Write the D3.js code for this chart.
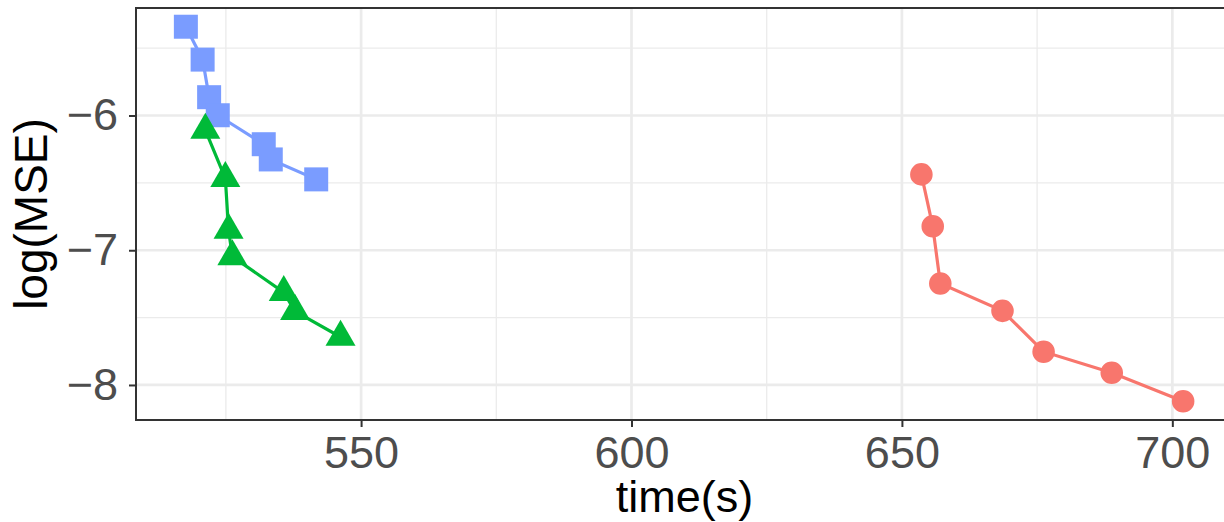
<!DOCTYPE html>
<html>
<head>
<meta charset="utf-8">
<script src="https://cdn.jsdelivr.net/npm/d3@7"></script>
<style>
  body { margin: 0; background: #fff; }
  svg { display: block; font-family: "Liberation Sans", Arial, sans-serif; }
</style>
</head>
<body>
<div id="wrapper"></div>
<script>
// values
const redTime = [653.6, 655.7, 657.1, 668.6, 676.2, 688.8, 702.0];
const redMse = [-6.437, -6.822, -7.247, -7.450, -7.753, -7.909, -8.121];

const greenTime = [521.2, 524.9, 525.5, 526.2, 535.7, 537.8, 546.2];
const greenMse = [-6.109, -6.467, -6.850, -7.047, -7.313, -7.454, -7.644];

const blueTime = [517.6, 520.7, 521.9, 523.5, 532.0, 533.3, 541.7];
const blueMse = [-5.341, -5.585, -5.864, -5.998, -6.213, -6.326, -6.474];

const xTicks = [550, 600, 650, 700];
const xMinor = [525, 575, 625, 675];
const yTicks = [-6, -7, -8];
const yMinor = [-5.5, -6.5, -7.5];

const toPoints = (times, mses) => times.map((t, i) => ({ time: t, mse: mses[i] }));

// drawing order: blue, green, red
const series = [
  { name: "blue", color: "#7A9CFF", symbol: d3.symbolSquare, size: 576, points: toPoints(blueTime, blueMse) },
  { name: "green", color: "#00BA38", symbol: d3.symbolTriangle, size: 390, points: toPoints(greenTime, greenMse) },
  { name: "red", color: "#F8766D", symbol: d3.symbolCircle, size: 400, points: toPoints(redTime, redMse) },
];

const xAccessor = d => d.time;
const yAccessor = d => d.mse;

// chart dimensions (panel runs past the right edge, like the original)
let dimensions = {
  width: 1224,
  height: 522,
  marginTop: 8,
  marginLeft: 136,
  boundedWidth: 1097,
  boundedHeight: 412,
};

const wrapper = d3.select("#wrapper")
  .append("svg")
    .attr("width", dimensions.width)
    .attr("height", dimensions.height);

const bounds = wrapper.append("g")
    .attr("transform", `translate(${dimensions.marginLeft},${dimensions.marginTop})`);

// scales with ggplot's 5% expansion
const all = series.flatMap(s => s.points);
const expand = ([a, b]) => [a - (b - a) * 0.05, b + (b - a) * 0.05];

const xScale = d3.scaleLinear()
  .domain(expand(d3.extent(all, xAccessor)))
  .range([0, dimensions.boundedWidth]);

const yScale = d3.scaleLinear()
  .domain(expand(d3.extent(all, yAccessor)))
  .range([dimensions.boundedHeight, 0]);

// grid
const grid = bounds.append("g");
grid.selectAll(".xminor").data(xMinor).enter().append("line")
  .attr("x1", d => xScale(d)).attr("x2", d => xScale(d))
  .attr("y1", 0).attr("y2", dimensions.boundedHeight)
  .attr("stroke", "#EBEBEB").attr("stroke-width", 1.3);
grid.selectAll(".yminor").data(yMinor).enter().append("line")
  .attr("y1", d => yScale(d)).attr("y2", d => yScale(d))
  .attr("x1", 0).attr("x2", dimensions.boundedWidth)
  .attr("stroke", "#EBEBEB").attr("stroke-width", 1.3);
grid.selectAll(".xmajor").data(xTicks).enter().append("line")
  .attr("x1", d => xScale(d)).attr("x2", d => xScale(d))
  .attr("y1", 0).attr("y2", dimensions.boundedHeight)
  .attr("stroke", "#EBEBEB").attr("stroke-width", 2.7);
grid.selectAll(".ymajor").data(yTicks).enter().append("line")
  .attr("y1", d => yScale(d)).attr("y2", d => yScale(d))
  .attr("x1", 0).attr("x2", dimensions.boundedWidth)
  .attr("stroke", "#EBEBEB").attr("stroke-width", 2.7);

// lines
const lineGenerator = d3.line()
  .x(d => xScale(xAccessor(d)))
  .y(d => yScale(yAccessor(d)));

series.forEach(s => {
  bounds.append("path")
    .datum(s.points)
    .attr("d", lineGenerator)
    .attr("fill", "none")
    .attr("stroke", s.color)
    .attr("stroke-width", 3.2);
});

// points
series.forEach(s => {
  bounds.selectAll(`.pt-${s.name}`)
    .data(s.points)
    .enter().append("path")
      .attr("class", `pt-${s.name}`)
      .attr("transform", d => `translate(${xScale(xAccessor(d))},${yScale(yAccessor(d))})`)
      .attr("d", d3.symbol().type(s.symbol).size(s.size))
      .attr("fill", s.color);
});

// panel border
bounds.append("rect")
  .attr("width", dimensions.boundedWidth)
  .attr("height", dimensions.boundedHeight)
  .attr("fill", "none")
  .attr("stroke", "#333333")
  .attr("stroke-width", 2);

// axes
const xAxis = bounds.append("g")
  .attr("transform", `translate(0,${dimensions.boundedHeight})`)
  .call(d3.axisBottom(xScale).tickValues(xTicks).tickFormat(d3.format("d")).tickSize(7).tickPadding(9));

const yAxis = bounds.append("g")
  .call(d3.axisLeft(yScale).tickValues(yTicks).tickFormat(d3.format("d")).tickSize(7).tickPadding(11));

[xAxis, yAxis].forEach(ax => {
  ax.select(".domain").remove();
  ax.selectAll(".tick line").attr("stroke", "#333333").attr("stroke-width", 2);
  ax.selectAll(".tick text")
    .attr("fill", "#4D4D4D")
    .style("font-size", "45px")
    .style("font-family", "'Liberation Sans', Arial, sans-serif");
});

// titles
wrapper.append("text")
  .attr("x", dimensions.marginLeft + dimensions.boundedWidth / 2)
  .attr("y", 512)
  .attr("text-anchor", "middle")
  .style("font-size", "45px")
  .text("time(s)");

wrapper.append("text")
  .attr("transform", `translate(47,${dimensions.marginTop + dimensions.boundedHeight / 2}) rotate(-90)`)
  .attr("text-anchor", "middle")
  .style("font-size", "46px")
  .text("log(MSE)");
</script>
</body>
</html>
